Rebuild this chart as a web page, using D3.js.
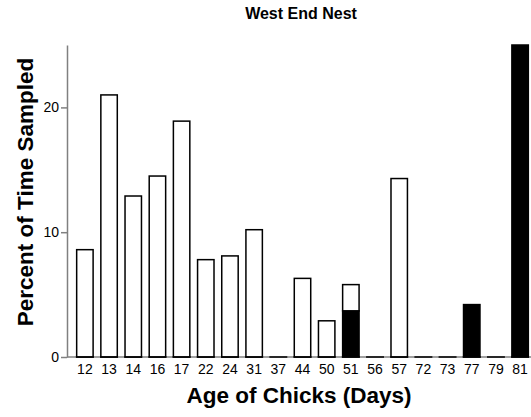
<!DOCTYPE html>
<html>
<head>
<meta charset="utf-8">
<script src="https://cdn.jsdelivr.net/npm/d3@7"></script>
<style>
  body { margin: 0; background: #fff; }
  text { font-family: "Liberation Sans", Arial, sans-serif; }
</style>
</head>
<body>
<div id="vis"></div>
<script>
// chick age categories and the two stacked parts of each bar
const ages = ["12", "13", "14", "16", "17", "22", "24", "31", "37", "44", "50", "51", "56", "57", "72", "73", "77", "79", "81"];
const openValues = [8.6, 21.0, 12.9, 14.5, 18.9, 7.8, 8.1, 10.2, 0, 6.3, 2.9, 2.1, 0, 14.3, 0, 0, 0, 0, 0];
const filledValues = [0, 0, 0, 0, 0, 0, 0, 0, 0, 0, 0, 3.7, 0, 0, 0, 0, 4.2, 0, 25];
const yTicks = [0, 10, 20];

const width = 531, height = 417;
const margin = { top: 45, right: -7, bottom: 60, left: 67 };

const svg = d3.select("#vis")
    .append("svg")
    .attr("width", width)
    .attr("height", height);

const x = d3.scaleBand()
    .domain(ages)
    .range([margin.left, width - margin.right])
    .paddingInner(0.32)
    .paddingOuter(0.4);

const y = d3.scaleLinear()
    .domain([0, 25])
    .range([height - margin.bottom, margin.top]);

const axisColor = "#808080";

// x baseline
svg.append("line")
    .attr("x1", margin.left)
    .attr("x2", width)
    .attr("y1", y(0))
    .attr("y2", y(0))
    .attr("stroke", axisColor)
    .attr("stroke-width", 1.5);

// y axis
const yAxis = svg.append("g")
    .attr("transform", `translate(${margin.left},0)`)
    .call(d3.axisLeft(y).tickValues(yTicks).tickSize(6).tickPadding(2).tickSizeOuter(0));
yAxis.select(".domain").attr("stroke", axisColor).attr("stroke-width", 1.5);
yAxis.selectAll(".tick line").attr("stroke", axisColor).attr("stroke-width", 1.5);
yAxis.selectAll(".tick text")
    .attr("fill", "#000")
    .style("font-size", "14px");

// bars
const bars = svg.append("g");
bars.selectAll("rect.filled")
    .data(ages)
    .join("rect")
    .attr("class", "filled")
    .attr("x", d => x(d))
    .attr("width", x.bandwidth())
    .attr("y", (d, i) => y(filledValues[i]))
    .attr("height", (d, i) => y(0) - y(filledValues[i]))
    .attr("fill", "#000")
    .attr("stroke", "#000")
    .attr("stroke-width", 1.5);

bars.selectAll("rect.open")
    .data(ages)
    .join("rect")
    .attr("class", "open")
    .attr("x", d => x(d))
    .attr("width", x.bandwidth())
    .attr("y", (d, i) => y(filledValues[i] + openValues[i]))
    .attr("height", (d, i) => y(filledValues[i]) - y(filledValues[i] + openValues[i]))
    .attr("fill", "#fff")
    .attr("stroke", "#000")
    .attr("stroke-width", 1.5);

// zero-height bars still show their bottom edge
bars.selectAll("line.base")
    .data(ages)
    .join("line")
    .attr("class", "base")
    .attr("x1", d => x(d) - 0.75)
    .attr("x2", d => x(d) + x.bandwidth() + 0.75)
    .attr("y1", y(0))
    .attr("y2", y(0))
    .attr("stroke", "#000")
    .attr("stroke-width", 1.5);

// x tick labels
svg.append("g")
    .selectAll("text")
    .data(ages)
    .join("text")
    .attr("x", d => x(d) + x.bandwidth() / 2)
    .attr("y", y(0) + 17)
    .attr("text-anchor", "middle")
    .style("font-size", "14px")
    .text(d => d);

// titles
svg.append("text")
    .attr("x", 301)
    .attr("y", 19)
    .attr("text-anchor", "middle")
    .style("font-size", "16px")
    .style("font-weight", "bold")
    .text("West End Nest");

svg.append("text")
    .attr("x", 299)
    .attr("y", 403)
    .attr("text-anchor", "middle")
    .style("font-size", "22.5px")
    .style("font-weight", "bold")
    .text("Age of Chicks (Days)");

svg.append("text")
    .attr("transform", "translate(33,192) rotate(-90)")
    .attr("text-anchor", "middle")
    .style("font-size", "22.5px")
    .style("font-weight", "bold")
    .text("Percent of Time Sampled");
</script>
</body>
</html>
